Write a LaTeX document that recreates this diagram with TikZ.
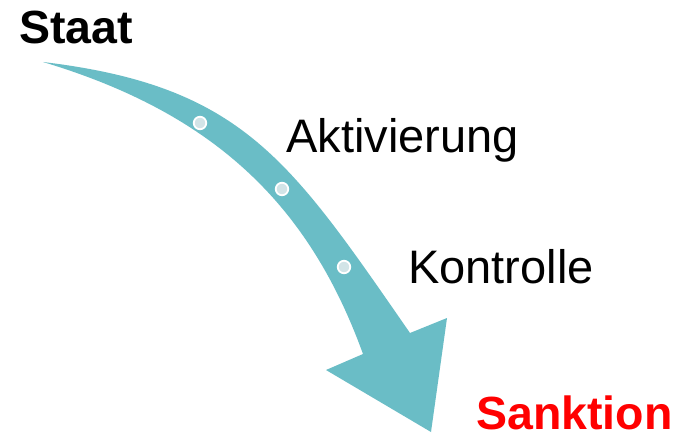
\documentclass[tikz,border=0pt]{standalone}
\usepackage{fontspec}
\setmainfont{Liberation Sans}
\definecolor{teal1}{HTML}{6ABDC6}
\definecolor{dotfill}{HTML}{D2E4E7}
\definecolor{sanktred}{HTML}{FF0000}
\begin{document}
\begin{tikzpicture}[x=1pt,y=-1pt,
  lbl/.style={inner sep=0pt,anchor=base west,font=\fontsize{47}{50}\selectfont},
  blbl/.style={inner sep=0pt,anchor=base west,font=\fontsize{46.5}{50}\selectfont\bfseries},
  stopdot/.style={circle,fill=dotfill,draw=white,line width=1.8pt,minimum size=12.5pt,inner sep=0pt}]
\useasboundingbox[fill=white] (0,0) rectangle (679,435);
% curved arrow
\fill[teal1] (43,62) .. controls (243,86) and (290,160) .. (410,333)
  -- (447,318) -- (431,432) -- (326,370) -- (363,354)
  .. controls (308.6,203.6) and (213,113) .. (43,62) -- cycle;
% stations
\node[stopdot] (d1) at (200,123) {};
\node[stopdot] (d2) at (282,189) {};
\node[stopdot] (d3) at (344,267) {};
% labels
\node[blbl] (staat) at (19,44) {Staat};
\node[lbl] (akt) at (286,152.5) {Aktivierung};
\node[lbl] (kon) at (408,283.5) {Kontrolle};
\node[blbl,text=sanktred] (sank) at (476,429) {Sanktion};
\end{tikzpicture}
\end{document}
